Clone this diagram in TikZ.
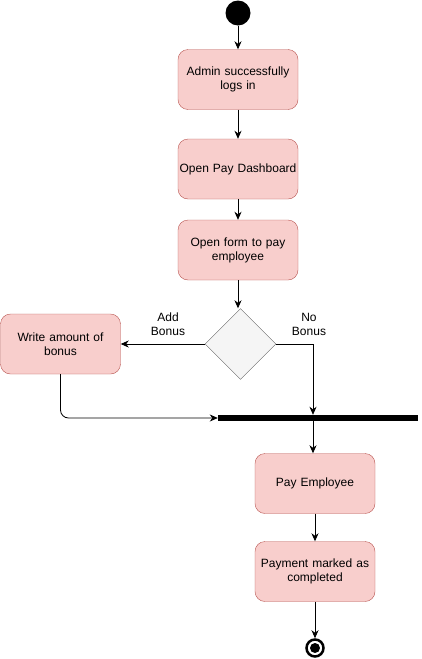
\documentclass[tikz,border=0pt]{standalone}
\usepackage{fontspec}
\setmainfont{Liberation Sans}
\usetikzlibrary{arrows.meta,shapes.geometric}
\definecolor{actfill}{HTML}{F8CECC}
\definecolor{actdraw}{HTML}{B85450}
\definecolor{decfill}{HTML}{F5F5F5}
\definecolor{decdraw}{HTML}{666666}
\begin{document}
\begin{tikzpicture}[x=1pt,y=-1pt,
  font=\fontsize{12}{14}\selectfont,
  act/.style={draw=actdraw,fill=actfill,rounded corners=10pt,minimum width=120pt,minimum height=60pt,align=center,text width=120pt,inner sep=0pt},
  dec/.style={diamond,draw=decdraw,fill=decfill,minimum width=71pt,minimum height=71pt,inner sep=0pt,aspect=1},
  flow/.style={draw=black,line width=0.8pt,-{Stealth[length=8pt,width=7pt,inset=2.5pt]}},
  lbl/.style={align=center,inner sep=0pt}]
\useasboundingbox (0,0) rectangle (422,659);
\node[circle,fill=black,minimum size=25pt,inner sep=0pt] (start) at (238,13) {};
\node[act] (login) at (238,79.5) {Admin successfully\\logs in};
\node[act] (dash) at (238,169) {Open Pay Dashboard};
\node[act] (form) at (238,250) {Open form to pay\\employee};
\node[dec] (dec) at (240.5,344) {};
\node[act] (bonus) at (60.5,344) {Write amount of\\bonus};
\node[fill=black,minimum width=200pt,minimum height=6pt,inner sep=0pt] (bar) at (318,418) {};
\node[act] (pay) at (315,483.5) {Pay Employee};
\node[act] (done) at (315,571.5) {Payment marked as\\completed};
\node[circle,draw=black,line width=2.5pt,fill=white,minimum size=17pt,inner sep=0pt] (end) at (315,648) {};
\node[circle,fill=black,minimum size=10pt,inner sep=0pt] (endin) at (315,648) {};
\coordinate (nb) at (313,344);
\node[lbl] (addlbl) at (168,324) {Add\\Bonus};
\node[lbl] (nolbl) at (309,324) {No\\Bonus};
\draw[flow] (start) -- (login);
\draw[flow] (login) -- (dash);
\draw[flow] (dash) -- (form);
\draw[flow] (form) -- (form.south |- dec.north);
\draw[flow] (dec.west) -- (bonus.east);
\draw[flow] (dec.east) -- (nb) -- (nb |- bar.north);
\draw[flow,rounded corners=8pt] (bonus.south) |- (bar.west);
\draw[flow] (bar.south -| nb) -- (nb |- pay.north);
\draw[flow] (pay) -- (done);
\draw[flow] (done) -- (end);
\end{tikzpicture}
\end{document}
